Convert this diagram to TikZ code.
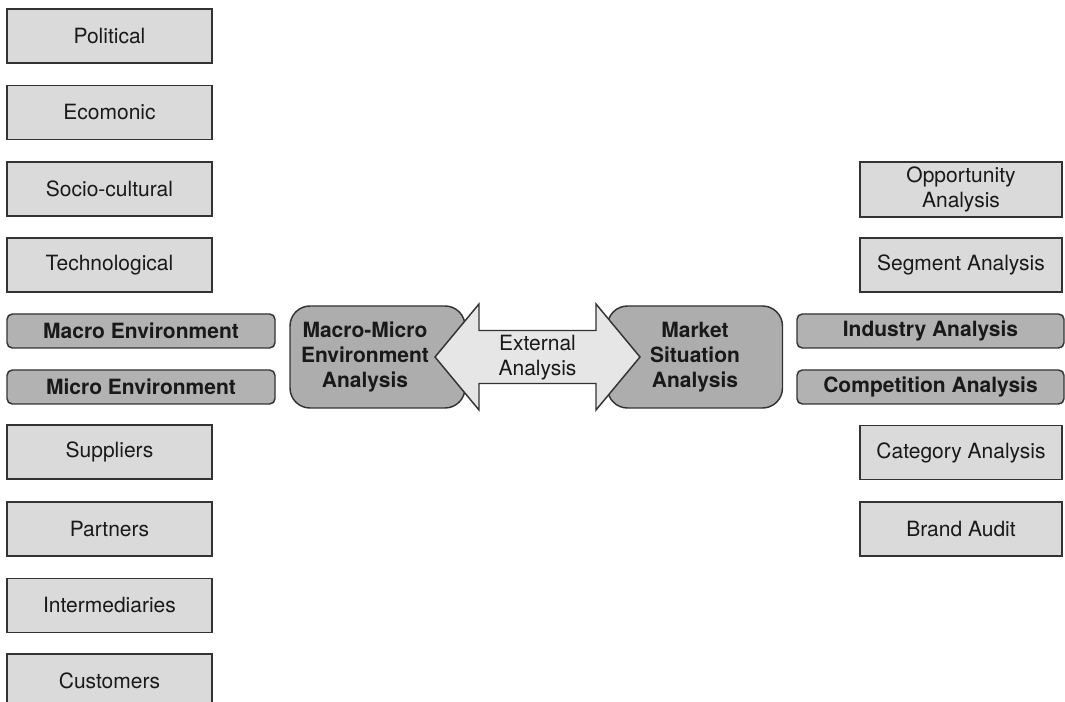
\documentclass[tikz,border=0pt]{standalone}
\usepackage{fontspec}
\setmainfont{TeX Gyre Heros}
\definecolor{edge}{HTML}{333333}
\definecolor{boxlight}{HTML}{DADADA}
\definecolor{boxdark}{HTML}{B2B2B2}
\definecolor{hubfill}{HTML}{ADADAD}
\definecolor{arrowfill}{HTML}{E6E6E6}
\begin{document}
\begin{tikzpicture}[x=0.75pt,y=-0.75pt,
  every node/.style={font=\fontsize{15.75}{18.75}\selectfont, text=black!90, align=center, inner sep=0pt},
  plain/.style={draw=edge, line width=1.1pt, fill=boxlight, minimum height={54*0.75pt}},
  leftw/.style={minimum width={205*0.75pt}},
  rightw/.style={minimum width={202*0.75pt}},
  tab/.style={draw=edge, line width=1.1pt, fill=boxdark, rounded corners=4pt,
    minimum height={34*0.75pt}, font=\fontsize{15.75}{18.75}\selectfont\bfseries},
  hub/.style={draw=edge, line width=1.1pt, fill=hubfill, rounded corners=15pt,
    minimum width={175*0.75pt}, minimum height={102*0.75pt},
    font=\fontsize{15.75}{19}\selectfont\bfseries},
  hubtext/.style={font=\fontsize{15.75}{19}\selectfont\bfseries},
  twoway/.style={draw=edge, line width=1.1pt, fill=arrowfill, line join=miter}
]
\useasboundingbox (0,0) rectangle (1065,702);
\clip (0,0) rectangle (1065,702);

% macro environment factors
\node[plain,leftw] (pol) at (109.5,36)  {Political};
\node[plain,leftw] (eco) at (109.5,112.5) {Ecomonic};
\node[plain,leftw] (soc) at (109.5,189) {Socio-cultural};
\node[plain,leftw] (tec) at (109.5,265) {Technological};
\node[tab,minimum width={268*0.75pt}] (mac) at (141,331) {Macro Environment};
\node[tab,minimum width={268*0.75pt}] (mic) at (141,387) {Micro Environment};
% micro environment actors
\node[plain,leftw] (sup) at (109.5,452) {Suppliers};
\node[plain,leftw] (par) at (109.5,529) {Partners};
\node[plain,leftw] (itm) at (109.5,605.5) {Intermediaries};
\node[plain,leftw] (cus) at (109.5,681) {Customers};

% market situation components
\node[plain,rightw,minimum height={55*0.75pt}] (opp) at (961,189.5) {Opportunity\\Analysis};
\node[plain,rightw] (seg) at (961,265) {Segment Analysis};
\node[tab,minimum width={267*0.75pt}] (ind) at (930.5,331) {Industry Analysis};
\node[tab,minimum width={267*0.75pt}] (com) at (930.5,387) {Competition Analysis};
\node[plain,rightw] (cat) at (961,452.5) {Category Analysis};
\node[plain,rightw] (bra) at (961,529) {Brand Audit};

% central hubs
\node[hub] (mm) at (377.5,357) {};
\node[hubtext] (mmt) at (365,357) {Macro-Micro\\Environment\\Analysis};
\node[hub] (ms) at (695,357) {Market\\Situation\\Analysis};

% two-way arrow between the hubs
\draw[twoway] (435,357) -- (479,304) -- (479,330.5) -- (596,330.5) -- (596,304)
  -- (640,357) -- (596,410) -- (596,383.5) -- (479,383.5) -- (479,410) -- cycle;
\node (ext) at (537.5,358) {External\\Analysis};
\end{tikzpicture}
\end{document}
